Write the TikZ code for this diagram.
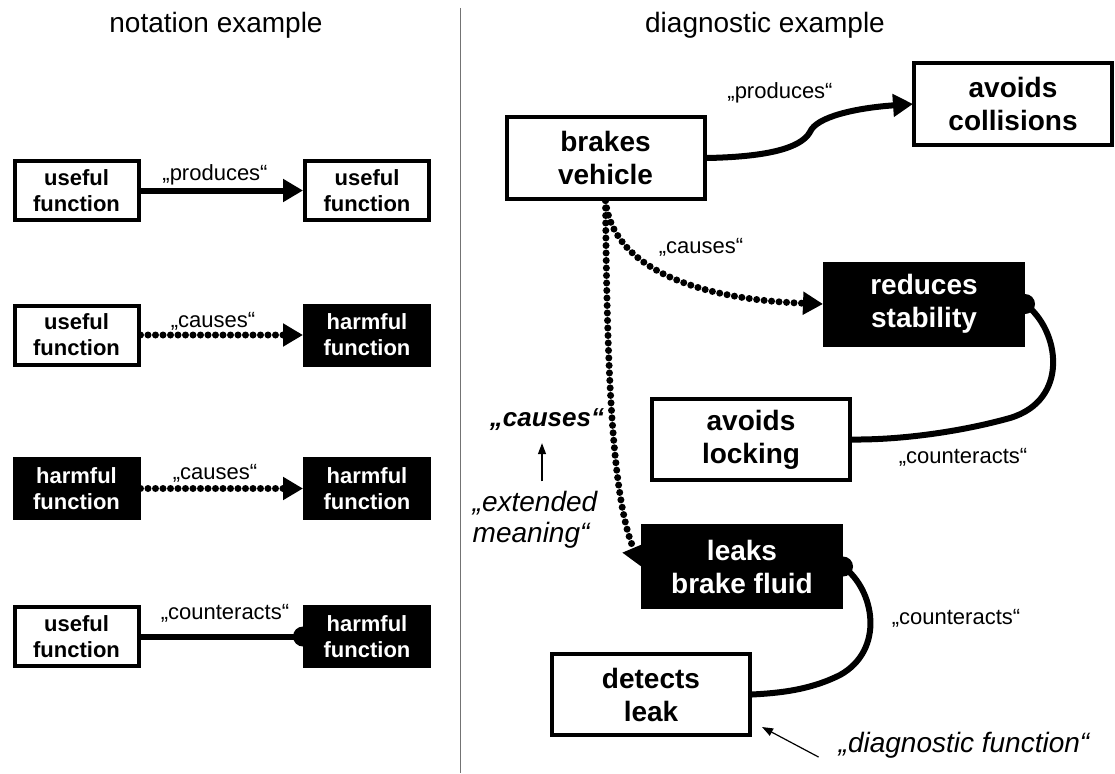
\documentclass[tikz,border=0pt]{standalone}
\usepackage{fontspec}
\setmainfont{Liberation Sans}
\usetikzlibrary{arrows.meta}
\begin{document}
\begin{tikzpicture}[x=1pt,y=-1pt,
  fn/.style={line width=4pt, align=center, inner sep=0pt,
    font=\bfseries\fontsize{22}{26}\selectfont,
    minimum width=124pt, minimum height=59pt},
  useful/.style={fn, draw=black, fill=white},
  harmful/.style={fn, draw=black, fill=black, text=white},
  bigfn/.style={font=\bfseries\fontsize{28}{33}\selectfont,
    minimum width=198pt, minimum height=81pt},
  rel/.style={font=\fontsize{22}{26}\selectfont, inner sep=0pt},
  head/.style={font=\fontsize{28}{33}\selectfont, inner sep=0pt},
  note/.style={font=\itshape\fontsize{28}{31}\selectfont, inner sep=0pt, align=left},
  produces/.style={line width=6pt, -{Triangle[length=20pt,width=22pt]}},
  causes/.style={line width=7pt, line cap=round, dash pattern=on 0pt off 7.5pt,
    -{Triangle[length=20pt,width=22pt]}},
  counteracts/.style={line width=6pt},
  pointer/.style={line width=1.2pt, -{Triangle[length=11pt,width=8pt]}},
]
\useasboundingbox (0,0) rectangle (1115,773);

% panel titles and divider
\node[head] (t1) at (216,25) {notation example};
\node[head] (t2) at (765,25) {diagnostic example};
\draw[black!55, line width=1pt] (460,8) -- (460,773);

% ---------- notation example ----------
\node[useful]  (a1) at (76.5,190.5) {useful\\function};
\node[useful]  (b1) at (367,190.5)  {useful\\function};
\node[useful]  (a2) at (76.5,335)   {useful\\function};
\node[harmful] (b2) at (367,335)    {harmful\\function};
\node[harmful] (a3) at (76.5,488.5) {harmful\\function};
\node[harmful] (b3) at (367,488.5)  {harmful\\function};
\node[useful]  (a4) at (76.5,636.5) {useful\\function};
\node[harmful] (b4) at (367,636.5)  {harmful\\function};

\draw[produces] (a1.east) -- (b1.west);
\draw[causes] (a2.east) -- (b2.west);
\draw[causes] (a3.east) -- (b3.west);
\draw[counteracts] (a4.east) -- (b4.west);
\fill (b4.west) circle (10pt);

\node[rel] (r1) at (215,175) {„produces“};
\node[rel] (r2) at (213,321) {„causes“};
\node[rel] (r3) at (215,473) {„causes“};
\node[rel] (r4) at (225,613) {„counteracts“};

% ---------- diagnostic example ----------
\draw[produces] (605.5,158) ++(101.5,0)
  .. controls (760,157) and (800,150) .. (810,132)
  .. controls (816,117) and (855,108) .. (913,104);

\node[useful,bigfn]  (bv) at (605.5,158) {brakes\\vehicle};
\node[useful,bigfn]  (ac) at (1013,104)  {avoids\\collisions};
\node[harmful,bigfn] (rs) at (924,304)   {reduces\\stability};
\node[useful,bigfn]  (al) at (751,439.5) {avoids\\locking};
\node[harmful,bigfn] (lb) at (742,566.5) {leaks\\brake fluid};
\node[useful,bigfn]  (dl) at (651,694.5) {detects\\leak};

\draw[causes] (bv.south) .. controls (612,265) and (690,299) .. (rs.west);
\draw[causes] (bv.south) .. controls (607,380) and (613,500) .. (lb.west);

\draw[counteracts] (rs.east) .. controls (1060,330) and (1070,400) .. (1010,418)
  .. controls (960,432) and (900,440) .. (al.east);
\fill (rs.east) circle (10pt);
\draw[counteracts] (lb.east) .. controls (875,590) and (885,650) .. (840,675)
  .. controls (810,690) and (780,693) .. (dl.east);
\fill (lb.east) circle (10pt);

\node[rel] (d1) at (780,93)  {„produces“};
\node[rel] (d2) at (701,247) {„causes“};
\node[rel] (d3) at (963,457) {„counteracts“};
\node[rel] (d4) at (956,618) {„counteracts“};

\node[font=\bfseries\itshape\fontsize{26}{30}\selectfont, inner sep=0pt] (cz) at (547,420) {„causes“};
\node[note] (ext) at (535,520) {„extended\\meaning“};
\draw[pointer, shorten <=10pt, shorten >=12pt] ([xshift=7pt]ext.north) -- ([xshift=-5pt]cz.south);

\node[note] (df) at (964,745) {„diagnostic function“};
\draw[pointer] ([shift={(-20pt,-12pt)}]df.west) -- ([shift={(10pt,10pt)}]dl.south east);
\end{tikzpicture}
\end{document}
